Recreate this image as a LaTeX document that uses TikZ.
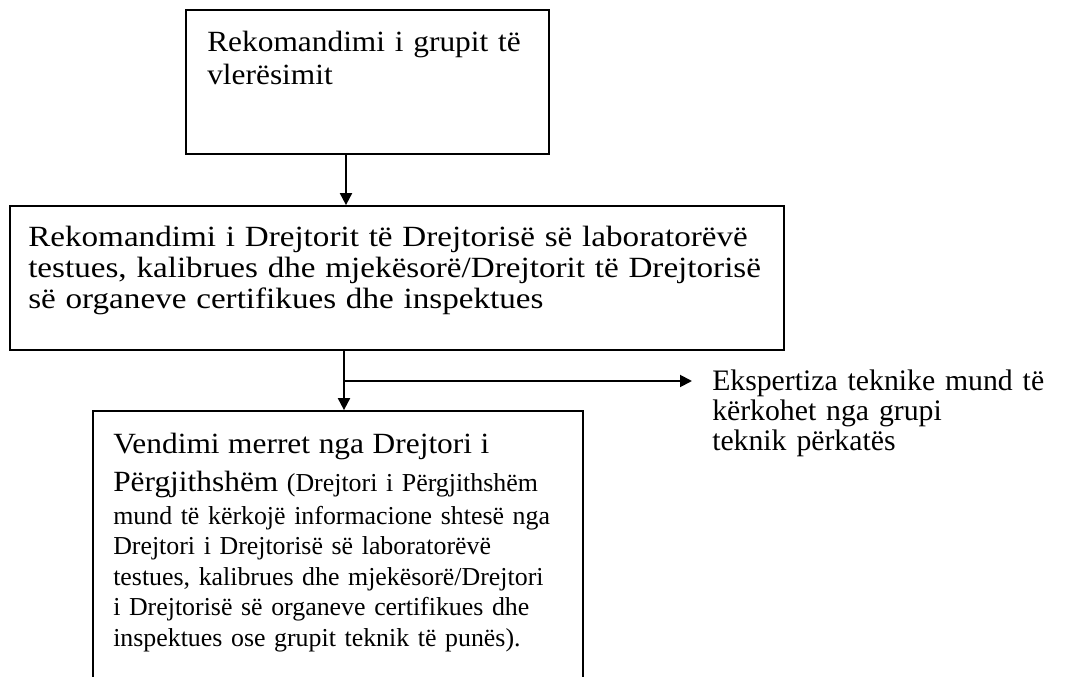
\documentclass[tikz,border=0pt]{standalone}
\usepackage{fontspec}
\setmainfont{Liberation Serif}
\newfontfamily\wideA[FakeStretch=1.13]{Liberation Serif}
\newfontfamily\wideB[FakeStretch=1.07]{Liberation Serif}
\usetikzlibrary{arrows.meta,fit}
\begin{document}
\begin{tikzpicture}[x=0.75pt,y=-0.75pt,
  box/.style={draw, line width=1.3pt, inner sep=0pt},
  txt/.style={anchor=base west, inner sep=0pt, text width=700pt, align=left},
  arr/.style={line width=1.4pt, -{Triangle[width=9pt,length=9pt]}}]
\useasboundingbox (0,0) rectangle (1065,677);
\clip (0,0) rectangle (1065,677);
% boxes
\node[box, fit={(186,10) (549,154)}] (b1) {};
\node[box, fit={(10,206) (784,350)}] (b2) {};
\node[box, fit={(93,411) (583,720)}] (b3) {};
% texts
\node[txt, font=\wideB\fontsize{22}{24.75}\selectfont] (t1) at (207,52) {Rekomandimi i grupit të\\vlerësimit};
\node[txt, font=\wideA\fontsize{22}{22.9}\selectfont] (t2) at (28,247) {Rekomandimi i Drejtorit të Drejtorisë së laboratorëvë\\
testues, kalibrues dhe mjekësorë/Drejtorit të Drejtorisë\\
së organeve certifikues dhe inspektues};
\node[txt, font=\fontsize{22.3}{22.5}\selectfont] (eks) at (712,391) {Ekspertiza teknike mund të\\kërkohet nga grupi\\teknik përkatës};
\node[txt, font=\fontsize{19.4}{22.9}\selectfont] (t3) at (113,454) {{\wideB\fontsize{22}{24}\selectfont Vendimi merret nga Drejtori i}\\[5.5pt]
{\wideB\fontsize{22}{24}\selectfont Përgjithshëm} (Drejtori i Përgjithshëm\\[1.5pt]
mund të kërkojë informacione shtesë nga\\
Drejtori i Drejtorisë së laboratorëvë\\
testues, kalibrues dhe mjekësorë/Drejtori\\
i Drejtorisë së organeve certifikues dhe\\
inspektues ose grupit teknik të punës).};
% connectors
\coordinate (c1) at (346,0);
\coordinate (c2) at (344,0);
\coordinate (j) at (344,381);
\draw[arr] (b1.south -| c1) -- (b2.north -| c1);
\draw[arr] (b2.south -| c2) -- (b3.north -| c2);
\draw[arr] (j) -- (j -| 692,0);
\end{tikzpicture}
\end{document}
